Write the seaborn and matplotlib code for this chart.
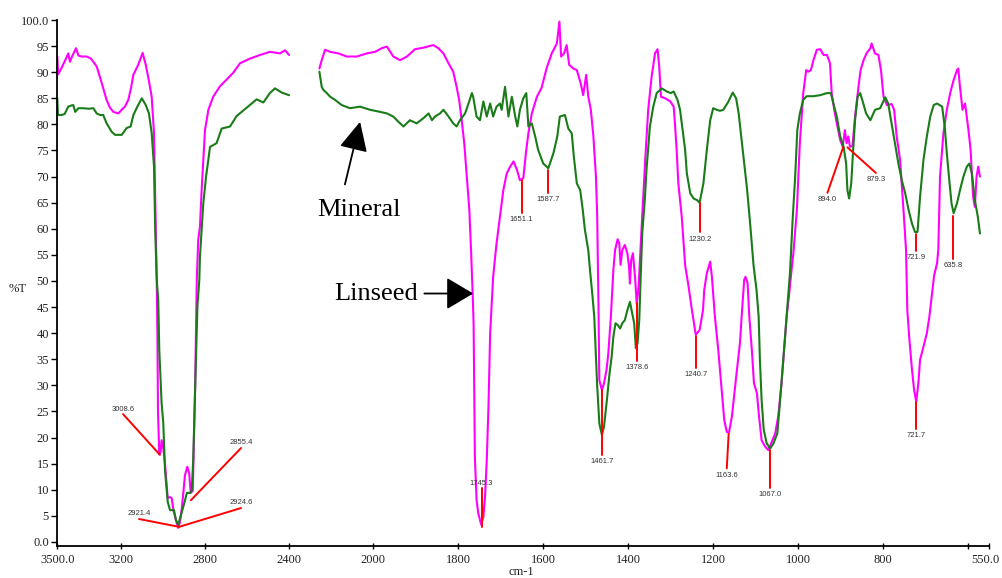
import numpy as np
import pandas as pd
import matplotlib
matplotlib.use("Agg")
import matplotlib.pyplot as plt
import matplotlib.transforms as mtransforms
import seaborn as sns

# ---------------- data ----------------
# Linseed oil spectrum, part 1 (3500-2400 cm-1)
lin_wn1 = [3500, 3496, 3480, 3460, 3448, 3440, 3430, 3411, 3400, 3385, 3360, 3340, 3313, 3289, 3266,
           3250, 3234, 3210, 3190, 3179, 3163, 3150, 3139, 3116, 3095, 3080, 3065, 3052, 3041, 3035,
           3028, 3025, 3022, 3016, 3010, 3005, 2997, 2989, 2976, 2966, 2957, 2949, 2933, 2926, 2918,
           2910, 2902, 2894, 2883, 2874, 2867, 2857, 2846, 2838, 2831, 2823, 2815, 2807, 2799, 2783,
           2760, 2728, 2696, 2665, 2633, 2586, 2538, 2491, 2443, 2419, 2400]
lin_T1 = [93.0, 89.6, 90.8, 92.5, 93.6, 92.0, 93.0, 94.6, 93.2, 93.0, 93.0, 92.6, 91.1, 87.9, 84.7,
          83.2, 82.4, 82.1, 83.0, 83.4, 84.7, 87.0, 89.5, 91.4, 93.7, 91.4, 88.3, 85.3, 78.3, 65.0,
          50.2, 40.0, 24.7, 16.8, 17.2, 19.5, 18.0, 15.1, 8.4, 8.6, 8.4, 6.1, 3.6, 2.7, 3.8,
          6.1, 9.4, 12.8, 14.4, 13.2, 9.4, 9.8, 29.1, 50.2, 57.9, 60.4, 67.4, 73.2, 78.9, 82.8,
          85.3, 87.3, 88.6, 89.9, 91.7, 92.6, 93.3, 93.9, 93.6, 94.2, 93.3]

# Mineral oil spectrum, part 1 (3500-2400 cm-1)
min_wn1 = [3500, 3497, 3480, 3465, 3448, 3435, 3424, 3415, 3400, 3377, 3350, 3329, 3313, 3297, 3282,
           3266, 3242, 3226, 3194, 3171, 3152, 3139, 3120, 3099, 3080, 3065, 3052, 3041, 3035, 3028,
           3021, 3016, 3005, 2997, 2989, 2976, 2965, 2946, 2937, 2926, 2910, 2897, 2885, 2870, 2862,
           2855, 2846, 2835, 2826, 2823, 2807, 2794, 2775, 2744, 2720, 2680, 2649, 2601, 2554, 2522,
           2491, 2467, 2435, 2400]
min_T1 = [85.0, 81.8, 81.8, 82.0, 83.4, 83.6, 83.7, 82.4, 83.1, 83.1, 83.0, 83.1, 82.1, 81.8, 81.8,
          80.2, 78.6, 78.0, 78.0, 79.3, 79.6, 81.8, 83.4, 85.0, 83.7, 82.1, 78.3, 71.9, 59.1, 50.2,
          46.4, 36.8, 26.6, 22.8, 13.8, 7.7, 6.1, 6.1, 4.2, 3.3, 5.6, 7.5, 9.4, 9.4, 9.8,
          15.7, 29.1, 45.1, 50.2, 54.7, 64.9, 70.0, 75.7, 76.4, 79.2, 79.6, 81.6, 83.2, 84.8, 84.2,
          86.0, 86.9, 86.1, 85.6]

# Linseed oil spectrum, part 2 (2256-572 cm-1)
lin_wn2 = [2256, 2245, 2229, 2205, 2166, 2126, 2079, 2031, 1996, 1980, 1968, 1953, 1937, 1921, 1902,
           1882, 1859, 1847, 1835, 1823, 1812, 1804, 1798, 1792, 1786, 1780, 1774, 1770, 1766, 1764,
           1761, 1757, 1753, 1749, 1746, 1741, 1737, 1733, 1729, 1725, 1718, 1710, 1702, 1694, 1686,
           1678, 1670, 1662, 1655, 1647, 1640, 1635, 1627, 1615, 1604, 1592, 1580, 1568, 1562, 1558,
           1551, 1545, 1539, 1529, 1521, 1512, 1506, 1499, 1494, 1488, 1482, 1476, 1473, 1470, 1468,
           1462, 1457, 1451, 1447, 1441, 1435, 1431, 1425, 1421, 1418, 1414, 1408, 1402, 1398, 1396,
           1393, 1389, 1384, 1380, 1376, 1372, 1368, 1360, 1353, 1345, 1337, 1331, 1327, 1323, 1313,
           1301, 1293, 1290, 1286, 1282, 1274, 1266, 1258, 1250, 1241, 1232, 1224, 1221, 1215, 1207,
           1203, 1196, 1188, 1180, 1174, 1168, 1163, 1156, 1151, 1145, 1137, 1132, 1127, 1124, 1119,
           1115, 1109, 1104, 1097, 1092, 1086, 1078, 1070, 1062, 1054, 1047, 1039, 1033, 1027, 1021,
           1015, 1011, 1003, 996, 988, 981, 976, 970, 964, 956, 948, 940, 932, 925, 921,
           915, 909, 901, 895, 890, 886, 882, 878, 872, 866, 858, 853, 846, 839, 830,
           827, 819, 811, 805, 799, 791, 780, 774, 768, 760, 752, 746, 743, 738, 732,
           727, 722, 717, 713, 705, 697, 691, 685, 680, 673, 670, 666, 658, 650, 642,
           634, 626, 623, 619, 613, 607, 599, 594, 588, 584, 580, 576, 572]
lin_T2 = [90.7, 92.3, 94.3, 93.9, 93.6, 93.0, 93.0, 93.6, 93.9, 94.6, 94.9, 93.0, 92.3, 93.0, 94.4,
          94.7, 95.2, 94.6, 93.6, 91.7, 90.1, 87.2, 84.7, 80.8, 76.4, 70.0, 63.6, 55.9, 47.0, 41.9,
          16.3, 8.0, 5.5, 4.2, 3.3, 4.8, 8.7, 15.7, 25.9, 40.0, 50.8, 57.2, 62.3, 67.4, 70.6,
          71.9, 72.9, 71.3, 69.3, 69.7, 75.1, 78.3, 82.1, 85.3, 87.0, 90.8, 93.6, 95.5, 99.7, 93.0,
          93.6, 95.2, 91.4, 90.7, 90.4, 87.9, 85.6, 89.5, 85.3, 82.8, 77.7, 70.0, 62.3, 45.0, 31.0,
          29.1, 30.4, 33.0, 36.0, 43.0, 52.1, 55.9, 58.0, 57.2, 53.1, 55.9, 56.9, 55.3, 52.7, 49.5,
          54.0, 55.3, 50.8, 45.7, 48.3, 54.7, 61.0, 73.2, 82.8, 89.1, 93.6, 94.4, 91.1, 85.3, 85.0,
          84.4, 83.4, 80.2, 75.1, 68.7, 62.3, 53.0, 49.0, 44.4, 39.7, 40.6, 44.4, 48.3, 51.5, 53.7,
          50.8, 43.2, 36.8, 29.1, 23.4, 21.1, 20.9, 24.0, 27.8, 32.3, 38.1, 44.4, 50.2, 50.8, 49.6,
          43.2, 36.8, 30.4, 28.5, 24.0, 19.5, 18.3, 17.6, 19.2, 20.8, 24.0, 30.4, 36.8, 43.2, 47.6,
          52.5, 55.5, 63.6, 76.4, 86.0, 90.4, 90.1, 90.4, 92.3, 94.3, 94.4, 93.3, 93.3, 91.7, 86.0,
          82.8, 80.2, 77.0, 75.7, 78.9, 76.4, 77.7, 75.7, 75.9, 81.5, 87.2, 90.4, 92.3, 93.6, 94.6,
          95.5, 93.6, 93.3, 90.4, 85.3, 83.7, 83.9, 82.8, 77.7, 73.2, 63.6, 55.9, 44.4, 38.7, 33.0,
          29.1, 26.9, 30.4, 34.9, 37.4, 40.0, 43.2, 47.5, 51.0, 53.4, 56.0, 70.0, 78.3, 82.8, 86.0,
          88.5, 90.4, 90.7, 87.2, 82.8, 84.0, 78.9, 75.1, 66.1, 64.2, 70.0, 71.9, 70.0]

# Mineral oil spectrum, part 2 (2256-572 cm-1)
min_wn2 = [2256, 2245, 2237, 2221, 2205, 2182, 2150, 2111, 2063, 2016, 1984, 1968, 1953, 1941, 1929,
           1914, 1898, 1882, 1870, 1862, 1855, 1843, 1835, 1823, 1812, 1804, 1796, 1784, 1776, 1768,
           1765, 1757, 1749, 1741, 1733, 1725, 1718, 1710, 1702, 1698, 1690, 1682, 1674, 1666, 1661,
           1655, 1647, 1640, 1635, 1627, 1619, 1612, 1600, 1588, 1576, 1567, 1561, 1549, 1541, 1533,
           1528, 1521, 1513, 1507, 1502, 1494, 1490, 1484, 1480, 1476, 1473, 1468, 1462, 1457, 1451,
           1444, 1439, 1435, 1430, 1425, 1419, 1414, 1408, 1402, 1396, 1392, 1386, 1382, 1378, 1374,
           1371, 1367, 1361, 1357, 1349, 1341, 1333, 1321, 1309, 1300, 1293, 1284, 1278, 1272, 1266,
           1262, 1254, 1246, 1238, 1232, 1223, 1215, 1207, 1200, 1192, 1184, 1176, 1164, 1154, 1146,
           1140, 1134, 1128, 1120, 1113, 1105, 1098, 1093, 1090, 1086, 1081, 1074, 1066, 1058, 1049,
           1043, 1035, 1029, 1023, 1019, 1013, 1007, 1002, 996, 988, 980, 964, 948, 932, 923,
           917, 909, 901, 893, 887, 884, 880, 875, 871, 866, 860, 854, 848, 840, 830,
           819, 807, 795, 788, 780, 772, 764, 756, 748, 740, 732, 725, 719, 713, 705,
           697, 689, 681, 673, 661, 655, 650, 645, 639, 634, 626, 619, 611, 603, 597,
           591, 584, 577, 572]
min_T2 = [90.1, 87.2, 86.6, 86.0, 85.3, 84.7, 83.7, 83.1, 83.4, 82.8, 82.4, 82.1, 81.5, 80.5, 79.6,
          80.8, 80.2, 81.2, 82.1, 80.8, 81.5, 82.1, 82.8, 81.5, 80.2, 79.6, 80.8, 82.1, 84.0, 86.0,
          85.3, 81.5, 80.8, 84.4, 81.5, 84.0, 81.5, 83.4, 84.0, 82.8, 87.2, 81.5, 85.3, 81.5, 79.6,
          82.8, 85.0, 86.0, 79.6, 80.2, 77.7, 75.1, 72.5, 71.6, 74.5, 77.7, 81.5, 81.8, 79.2, 78.3,
          73.8, 68.7, 67.4, 63.6, 59.8, 55.9, 52.1, 47.0, 43.2, 35.5, 29.8, 22.7, 20.5, 22.1, 26.6,
          32.3, 35.5, 39.3, 41.9, 41.6, 40.9, 41.9, 42.5, 44.4, 46.0, 44.4, 41.9, 37.1, 38.1, 42.5,
          50.0, 59.1, 65.5, 71.3, 79.6, 83.4, 86.0, 86.9, 86.3, 86.0, 86.3, 84.7, 82.8, 78.9, 75.1,
          70.6, 66.8, 65.8, 65.5, 65.0, 68.7, 75.1, 80.8, 83.1, 82.8, 82.6, 82.8, 84.4, 86.1, 85.0,
          82.1, 77.7, 73.2, 67.4, 61.0, 53.0, 48.3, 43.2, 34.9, 27.2, 21.5, 18.9, 17.9, 18.9, 20.8,
          26.6, 34.9, 41.2, 47.6, 51.8, 61.7, 70.0, 78.9, 82.1, 84.7, 85.4, 85.4, 85.6, 86.0, 86.0,
          84.0, 81.5, 77.7, 75.7, 72.5, 67.4, 65.8, 68.7, 74.5, 80.8, 85.3, 86.0, 84.4, 82.1, 80.8,
          82.8, 83.1, 85.2, 84.0, 80.2, 76.4, 72.5, 69.3, 66.8, 63.6, 61.0, 59.4, 59.4, 66.1, 73.2,
          77.7, 81.5, 83.7, 84.0, 83.4, 79.6, 74.5, 70.0, 64.9, 63.0, 64.9, 67.4, 70.0, 71.9, 72.5,
          70.6, 65.5, 62.3, 59.1]

# Peak annotations: label text, peak wavenumber, line top %T, line bottom %T
vpeak_labels = ["1651.1", "1587.7", "1461.7", "1378.6", "1230.2", "1240.7", "1067.0",
                "721.9", "635.8", "721.7"]
vpeak_wn = [1651.1, 1587.7, 1461.7, 1378.6, 1230.2, 1240.7, 1067.0, 721.9, 635.8, 721.7]
vpeak_top = [69.3, 71.3, 29.1, 45.8, 65.0, 39.5, 17.6, 59.0, 62.5, 26.9]
vpeak_bot = [63.0, 66.8, 16.7, 34.7, 59.3, 33.3, 10.3, 55.8, 54.2, 21.6]

# Slanted leader annotations: label, peak (wn, %T), label end (wn, %T)
spk_labels = ["3008.6", "2855.4", "2921.4", "2924.6", "894.0", "879.3", "1163.6", "1745.3"]
spk_peak_wn = [3013, 2866, 2922, 2922, 893.6, 884, 1163.6, 1745.3]
spk_peak_T = [16.7, 8.0, 2.9, 2.9, 75.7, 75.6, 20.7, 2.9]
spk_end_wn = [3188, 2628, 3112, 2628, 931, 817, 1168, 1745.3]
spk_end_T = [24.5, 18.0, 4.4, 6.5, 66.9, 70.7, 14.1, 10.3]

# Axis ticks
xtick_vals = [3500, 3200, 2800, 2400, 2000, 1800, 1600, 1400, 1200, 1000, 800, 600, 550]
xtick_text = ["3500.0", "3200", "2800", "2400", "2000", "1800", "1600", "1400", "1200",
              "1000", "800", "", "550.0"]
ytick_vals = list(range(0, 101, 5))
ytick_text = ["0.0"] + [str(v) for v in range(5, 100, 5)] + ["100.0"]

# ---------------- styling / layout ----------------
sns.set_theme(style="white")
plt.rcParams["font.family"] = ["Liberation Serif", "DejaVu Serif"]

MAG = "#ff00ff"
GRN = "#197c19"
RED = "#ff0000"

fig = plt.figure(figsize=(10.03, 5.78), dpi=100)
ax = fig.add_axes([57.3 / 1003, 1 - 546 / 578, (989.3 - 57.3) / 1003, (546 - 20) / 578])

R = 0.496  # abscissa expansion ratio above 2000 cm-1


def fwd(x):
    x = np.asarray(x, dtype=float)
    return np.where(x > 2000, 2000 + (x - 2000) * R, x)


def inv(u):
    u = np.asarray(u, dtype=float)
    return np.where(u > 2000, 2000 + (u - 2000) / R, u)


ax.set_xscale("function", functions=(fwd, inv))

segments = [
    (lin_wn1, lin_T1, MAG),
    (lin_wn2, lin_T2, MAG),
    (min_wn1, min_T1, GRN),
    (min_wn2, min_T2, GRN),
]
for wn, T, col in segments:
    df = pd.DataFrame({"wn": wn, "T": T})
    sns.lineplot(data=df, x="wn", y="T", ax=ax, color=col, lw=1.5,
                 estimator=None, sort=False, legend=False)

lab_font = dict(family="Liberation Sans", fontsize=5.5, color="#333333")

for lab, x, y0, y1 in zip(vpeak_labels, vpeak_wn, vpeak_top, vpeak_bot):
    ax.plot([x, x], [y0, y1], color=RED, lw=1.4, zorder=5)
    ax.text(x, y1 - 0.6, lab, ha="center", va="top", **lab_font)

for lab, px, py, ex, ey in zip(spk_labels, spk_peak_wn, spk_peak_T, spk_end_wn, spk_end_T):
    ax.plot([px, ex], [py, ey], color=RED, lw=1.4, zorder=5)
    if ey >= py:
        ax.text(ex, ey + 0.3, lab, ha="center", va="bottom", **lab_font)
    else:
        ax.text(ex, ey - 0.6, lab, ha="center", va="top", **lab_font)

# Text callouts
ax.annotate("", xy=(2063, 80.5), xytext=(2135, 68.5),
            arrowprops=dict(arrowstyle="-|>,head_length=0.45,head_width=0.22",
                            mutation_scale=40, color="black", lw=1.3, shrinkA=0, shrinkB=0))
ax.text(2068, 63.6, "Mineral", ha="center", va="center", fontsize=19, color="black")
ax.annotate("", xy=(1765, 47.6), xytext=(1880, 47.6),
            arrowprops=dict(arrowstyle="-|>,head_length=0.42,head_width=0.25",
                            mutation_scale=40, color="black", lw=1.3, shrinkA=0, shrinkB=0))
ax.text(1994, 47.6, "Linseed", ha="center", va="center", fontsize=19, color="black")

ax.set_xlim(3500, 550)
ax.set_ylim(-0.77, 100)
ax.set_xticks(xtick_vals)
ax.set_xticklabels(xtick_text)
ax.set_yticks(ytick_vals)
ax.set_yticklabels(ytick_text)
ax.minorticks_off()
ax.tick_params(axis="x", direction="inout", length=4, width=1, pad=4, labelsize=9,
               colors="black", bottom=True)
ax.tick_params(axis="y", direction="out", length=4, width=1, pad=2, labelsize=9,
               colors="black", left=True)
xlabels = ax.get_xticklabels()
for lbl in xlabels + ax.get_yticklabels():
    lbl.set_color("#222222")
# last label sits slightly left of its tick, as in the reference
xlabels[-1].set_transform(xlabels[-1].get_transform() +
                          mtransforms.ScaledTranslation(-4 / 100, 0, fig.dpi_scale_trans))

for s in ["top", "right"]:
    ax.spines[s].set_visible(False)
for s in ["left", "bottom"]:
    ax.spines[s].set_color("black")
    ax.spines[s].set_linewidth(1.3)

ax.set_xlabel("cm-1", fontsize=9, color="#222222", va="center")
ax.xaxis.set_label_coords(0.4975, -0.0485)
ax.set_ylabel("%T", fontsize=9, rotation=0, color="#222222", va="center", ha="center")
ax.yaxis.set_label_coords(-0.0422, 0.4886)
ax.patch.set_alpha(0)

fig.savefig("out.png", dpi=100, facecolor="white")
